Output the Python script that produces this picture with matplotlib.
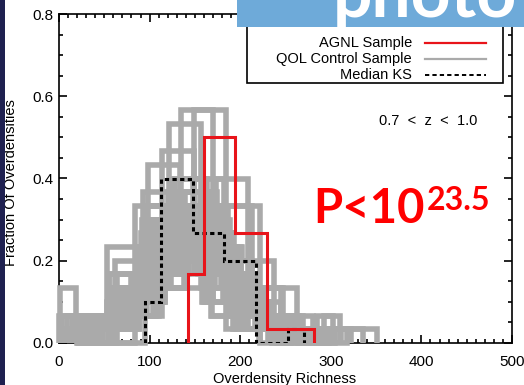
import matplotlib
matplotlib.use("Agg")
import matplotlib.pyplot as plt
from matplotlib.lines import Line2D
from matplotlib.patches import Rectangle
from matplotlib.ticker import MultipleLocator, FormatStrFormatter
import numpy as np

plt.rcParams["font.family"] = ["Liberation Sans", "DejaVu Sans"]

# histograms are counts of overdensities, binsize 35, drawn IDL psym=10 style
# (half-width bins at both ends), each starting at its own minimum richness
BINSIZE = 35.0

# QOL control samples
GRAY_STARTS = [0, 1, 2, 3, 4, 5, 6, 7, 8, 9, 10, 11, 12, 13, 14, 15,
               16, 17, 18, 19, 20, 21, 22, 23, 24, 25, 26, 27, 28, 29,
               30, 31, 32, 33, 34, 35, 36, 37, 38, 40, 42, 45,
               6, 9, 14, 17, 21, 24, 27, 29, 33, 36, 39, 43, 3, 11, 19, 31]
GRAY_COUNTS = [
    [2, 1, 3, 7, 8, 3, 1, 4, 1],
    [4, 2, 7, 5, 4, 3, 2, 1, 0, 1, 1],
    [1, 0, 4, 7, 10, 5, 2, 1],
    [2, 0, 5, 8, 7, 4, 2, 1, 1],
    [1, 2, 2, 9, 11, 3, 1, 1],
    [1, 0, 4, 11, 8, 3, 1, 1, 1],
    [1, 1, 3, 6, 12, 5, 1, 1],
    [1, 1, 0, 9, 10, 5, 3, 1],
    [1, 1, 3, 7, 9, 6, 2, 0, 1],
    [2, 1, 2, 10, 8, 4, 2, 1],
    [1, 0, 5, 9, 11, 2, 1, 1],
    [1, 2, 5, 13, 6, 2, 1],
    [1, 0, 3, 5, 17, 3, 1],
    [1, 1, 4, 8, 10, 3, 2, 0, 1],
    [2, 1, 3, 6, 11, 5, 1, 1],
    [1, 2, 3, 7, 10, 4, 2, 1],
    [1, 1, 2, 4, 8, 12, 1, 1],
    [1, 1, 3, 6, 11, 5, 2, 1],
    [1, 1, 2, 4, 9, 6, 4, 2, 1],
    [1, 1, 3, 9, 8, 5, 2, 1],
    [1, 1, 2, 5, 9, 6, 4, 1, 0, 1],
    [1, 2, 3, 5, 7, 10, 2],
    [1, 1, 3, 6, 9, 5, 2, 1, 2],
    [1, 2, 2, 7, 10, 5, 2, 1],
    [1, 1, 4, 8, 9, 4, 1, 1, 1],
    [1, 1, 3, 7, 12, 4, 1, 1],
    [2, 1, 2, 14, 5, 4, 1, 1],
    [1, 1, 3, 6, 17, 1, 1],
    [1, 1, 4, 8, 9, 4, 2, 1],
    [1, 2, 3, 6, 7, 10, 0, 1],
    [1, 2, 3, 7, 8, 4, 2, 1, 2],
    [1, 0, 10, 9, 5, 2, 1, 1, 1],
    [1, 2, 6, 9, 7, 3, 1, 1],
    [1, 1, 5, 10, 8, 3, 1, 1],
    [1, 2, 4, 16, 4, 2, 1],
    [1, 2, 7, 11, 5, 2, 1, 1],
    [2, 1, 6, 12, 5, 2, 1, 1],
    [1, 2, 5, 9, 7, 3, 2, 1],
    [1, 3, 7, 12, 4, 2, 1],
    [1, 3, 6, 10, 6, 2, 1, 1],
    [1, 3, 5, 9, 6, 3, 2, 0, 1],
    [1, 2, 5, 8, 7, 6, 1],
    [1, 1, 4, 10, 9, 3, 1, 1],
    [1, 0, 6, 8, 9, 4, 1, 1],
    [1, 1, 3, 9, 9, 5, 1, 1],
    [1, 1, 4, 8, 7, 5, 3, 1],
    [1, 1, 4, 9, 8, 4, 2, 1],
    [1, 2, 3, 8, 10, 3, 2, 1],
    [1, 1, 5, 7, 9, 5, 1, 1],
    [1, 1, 4, 9, 9, 3, 2, 1],
    [1, 2, 4, 11, 7, 3, 1, 1],
    [1, 1, 5, 10, 8, 3, 1, 1],
    [1, 2, 6, 9, 7, 3, 1, 1],
    [1, 2, 5, 10, 7, 3, 1, 1],
    [1, 1, 5, 7, 10, 4, 1, 1],
    [1, 1, 4, 9, 9, 4, 1, 1],
    [1, 1, 3, 7, 10, 5, 2, 1],
    [1, 1, 5, 8, 9, 3, 2, 1],
]

# AGNL sample
AGNL_START = 142
AGNL_COUNTS = [5, 15, 8, 1, 1]

# median of the KS comparisons
KS_START = 95
KS_COUNTS = [3, 12, 8, 6, 0, 1]

GRAY = "#aaaaaa"
RED = "#e8141a"


def psym10_edges(x0, n):
    edges = [x0] + [x0 + BINSIZE * (k + 0.5) for k in range(n - 1)] + [x0 + BINSIZE * (n - 1)]
    return np.array(edges)


def draw_hist(ax, x0, counts, **kw):
    counts = np.array(counts, dtype=float)
    ax.stairs(counts / counts.sum(), psym10_edges(x0, len(counts)),
              baseline=0, fill=False, **kw)


fig = plt.figure(figsize=(5.24, 3.85), dpi=100)
ax = fig.add_axes([59 / 524, 1 - 343 / 385, 453 / 524, 329 / 385])

for x0, counts in zip(GRAY_STARTS, GRAY_COUNTS):
    draw_hist(ax, x0, counts, color=GRAY, lw=4.0, zorder=3, clip_on=False)
draw_hist(ax, KS_START, KS_COUNTS, color="black", lw=2.2,
          linestyle=(0, (1.4, 1.1)), zorder=4)
draw_hist(ax, AGNL_START, AGNL_COUNTS, color=RED, lw=2.2, zorder=5)

ax.set_xlim(0, 500)
ax.set_ylim(0, 0.8)
ax.xaxis.set_major_locator(MultipleLocator(100))
ax.xaxis.set_minor_locator(MultipleLocator(10))
ax.yaxis.set_major_locator(MultipleLocator(0.2))
ax.yaxis.set_minor_locator(MultipleLocator(0.05))
ax.yaxis.set_major_formatter(FormatStrFormatter("%.1f"))
ax.tick_params(which="both", direction="in", top=True, right=True, width=1.2, labelsize=11)
ax.tick_params(which="major", length=6)
ax.tick_params(which="minor", length=3)
ax.tick_params(axis="x", pad=9)
ax.tick_params(axis="y", pad=4)
for sp in ax.spines.values():
    sp.set_linewidth(1.2)

fig.text(285 / 524, 1 - 379 / 385, "Overdensity Richness", ha="center", va="center", fontsize=10.5)
fig.text(11 / 524, 1 - 183 / 385, "Fraction Of Overdensities", ha="center", va="center",
         rotation=90, fontsize=10.5)

# legend box, labels right-aligned against their line samples
ax.add_patch(Rectangle((0.415, 0.790), 0.565, 0.19, transform=ax.transAxes,
                       facecolor="white", edgecolor="black", lw=1.2, zorder=6))
legend_rows = [
    ("AGNL Sample", dict(color=RED, lw=1.6)),
    ("QOL Control Sample", dict(color=GRAY, lw=1.6)),
    ("Median KS", dict(color="black", lw=1.4, linestyle=(0, (2.2, 1.6)))),
]
for i, (label, style) in enumerate(legend_rows):
    y = 0.912 - 0.0487 * i
    ax.text(0.779, y, label, transform=ax.transAxes, ha="right", va="center",
            fontsize=10.5, zorder=7)
    ax.add_line(Line2D([0.808, 0.943], [y, y], transform=ax.transAxes, zorder=7, **style))

ax.text(0.815, 0.675, "0.7  <  z  <  1.0", transform=ax.transAxes, ha="center",
        va="center", fontsize=10.5, zorder=7)

# slide overlays: p-value callout, title banner, dark margin
fig.text(313 / 524, 1 - 223 / 385, "P<10", color="#ff0000", fontsize=34,
         fontweight="bold", family=["Lato", "DejaVu Sans"], va="baseline", ha="left")
fig.text(427 / 524, 1 - 210 / 385, "23.5", color="#ff0000", fontsize=23,
         fontweight="bold", family=["Lato", "DejaVu Sans"], va="baseline", ha="left")

banner = Rectangle((237 / 524, 1 - 27 / 385), 1 - 237 / 524, 27 / 385,
                   transform=fig.transFigure, facecolor="#6eaad9",
                   edgecolor="none", zorder=10)
fig.patches.append(banner)
title = fig.text(333 / 524, 1 - 17 / 385, "photo", color="white", fontsize=50,
                 fontweight="bold", family=["Lato", "DejaVu Sans"],
                 va="baseline", ha="left", zorder=11)
title.set_clip_path(banner)
fig.patches.append(Rectangle((0, 0), 5 / 524, 1, transform=fig.transFigure,
                             facecolor="#1f2150", edgecolor="none", zorder=10))

fig.savefig("out.png", dpi=100)
